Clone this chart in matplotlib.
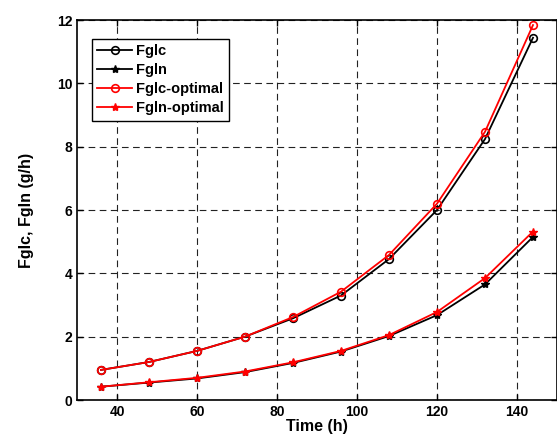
import matplotlib
matplotlib.use("Agg")
import matplotlib.pyplot as plt

time_h = [36, 48, 60, 72, 84, 96, 108, 120, 132, 144]
fglc = [0.95, 1.20, 1.55, 2.00, 2.58, 3.30, 4.45, 6.00, 8.24, 11.44]
fgln = [0.42, 0.55, 0.68, 0.88, 1.17, 1.53, 2.02, 2.68, 3.65, 5.15]
fglc_opt = [0.95, 1.20, 1.55, 2.00, 2.62, 3.42, 4.58, 6.20, 8.47, 11.84]
fgln_opt = [0.42, 0.56, 0.70, 0.90, 1.19, 1.55, 2.05, 2.78, 3.85, 5.32]

plt.rcParams["font.family"] = ["Liberation Sans", "DejaVu Sans"]
plt.rcParams["font.weight"] = "bold"

fig = plt.figure(figsize=(5.57, 4.40), dpi=100)
ax = fig.add_axes([77 / 557, 40 / 440, 480 / 557, 380 / 440])

ax.plot(time_h, fglc, "k-", marker="o", mfc="none", ms=5.5, mew=1.2, lw=1.3, label="Fglc")
ax.plot(time_h, fgln, "k-", marker="*", ms=6, lw=1.3, label="Fgln")
ax.plot(time_h, fglc_opt, "r-", marker="o", mfc="none", ms=5.5, mew=1.2, lw=1.3, label="Fglc-optimal")
ax.plot(time_h, fgln_opt, "r-", marker="*", ms=6, lw=1.3, label="Fgln-optimal")

ax.set_xlim(30, 150)
ax.set_ylim(0, 12)
ax.set_xticks([40, 60, 80, 100, 120, 140])
ax.set_yticks([0, 2, 4, 6, 8, 10, 12])
ax.grid(True, color="#222222", linestyle=(0, (6, 4)), linewidth=0.8)
ax.tick_params(direction="in", labelsize=10, width=1, length=4, top=True, right=True)
for lbl in ax.get_xticklabels() + ax.get_yticklabels():
    lbl.set_fontweight("bold")
for s in ax.spines.values():
    s.set_linewidth(1.2)

ax.set_xlabel("Time (h)", fontsize=11.5, fontweight="bold", labelpad=0)
ax.set_ylabel("Fglc, Fgln (g/h)", fontsize=11.5, fontweight="bold", labelpad=16)

leg = ax.legend(loc="upper left", bbox_to_anchor=(15 / 480, 1 - 19 / 380), fontsize=10.5,
                fancybox=False, framealpha=1, edgecolor="black", borderaxespad=0,
                handlelength=2.4, borderpad=0.35, labelspacing=0.35, handletextpad=0.3)
leg.get_frame().set_linewidth(1.0)
for t in leg.get_texts():
    t.set_fontweight("bold")

fig.savefig("out.png", dpi=100)
